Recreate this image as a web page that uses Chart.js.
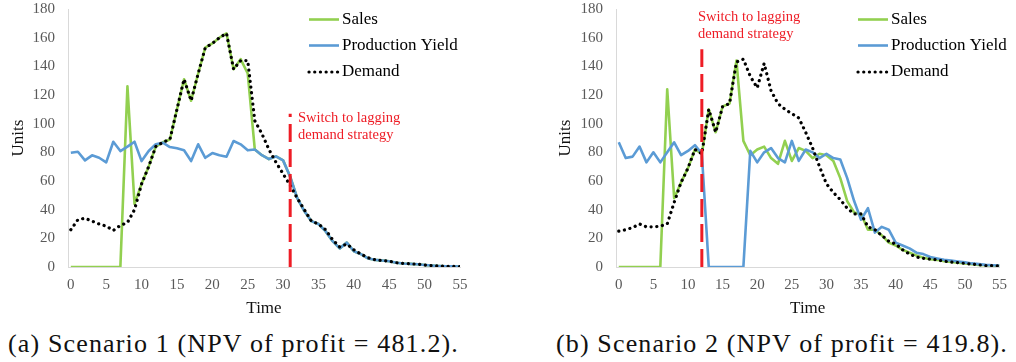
<!DOCTYPE html>
<html>
<head>
<meta charset="utf-8">
<script src="https://cdn.jsdelivr.net/npm/chart.js@4.4.1/dist/chart.umd.min.js"></script>
<style>
  body { margin: 0; background: #fff; width: 1016px; height: 362px; position: relative; overflow: hidden; }
  canvas { position: absolute; top: 0; }
  #chartA { left: 0; }
  #chartB { left: 508px; }
  .caption { position: absolute; top: 329px; font-family: 'Liberation Serif', serif; font-size: 26px; line-height: 30px; color: #111; white-space: nowrap; }
</style>
</head>
<body>
<canvas id="chartA" width="508" height="320"></canvas>
<canvas id="chartB" width="508" height="320"></canvas>
<div class="caption" id="capA" style="left:8px"></div>
<div class="caption" id="capB" style="left:556px"></div>
<script>
// time periods (x axis)
const periods = [0,1,2,3,4,5,6,7,8,9,10,11,12,13,14,15,16,17,18,19,20,21,22,23,24,25,26,27,
                 28,29,30,31,32,33,34,35,36,37,38,39,40,41,42,43,44,45,46,47,48,49,50,51,52,53,54,55];
const xTicks = [0,5,10,15,20,25,30,35,40,45,50,55];
const yTicks = [0,20,40,60,80,100,120,140,160,180];
const seriesNames = ['Sales', 'Production Yield', 'Demand'];

// scenario 1
const salesA = [0,0,0,0,0,0,0,0,126,44,58,70,84,87,89,110,131,116,135,153,156,160,163,138,145,135,
                82,78,75.3,77.2,74.4,63,48,39,32,30,25,18,13,17,11,9,6,5,4.5,4,3,2.4,2.2,1.9,1.4,1,0.7,0.5,0.5,0.3];
const yieldA = [79.7,80.4,74.4,77.9,76.2,73,87.4,80.9,84,87.4,73.9,80.9,85.6,86.7,83.7,82.8,81.4,73.9,85.6,76.2,
                79.5,77.9,76.9,87.9,85.6,81.4,82,78,75.3,77.2,74.4,63,48,39,32,30,25,18,13,17,11,9,6,5,4.5,4,3,
                2.4,2.2,1.9,1.4,1,0.7,0.5,0.5,0.3];
const demandA = [26,33,34,32,30,28.5,25.5,29,31,40,58,70,84,87,89,110,131,116,135,153,156,160,163,138,144,144,
                 102,93,82,73,65,57,48,40,32,30,26,19,14,16,12,9,6.5,5,4.5,4,3,2.5,2.2,2,1.4,1,0.7,0.5,0.4,0.3];

// scenario 2
const salesB = [0,0,0,0,0,0,0,124,48,59,69,82,79,110,94,112,114,144,88,78,82,84,76,72,88,74,83,81,76,79,78,74,
                62,46,38,37,26,26,22,17,15,12,10,8,6.5,5.5,5,4,3.5,3,2.5,2,1.5,1.2,1,0.8];
const yieldB = [87,76,77,84,73,80,73,80,87,78,81,85,79,0,0,0,0,0,0,81,73,80,83,76,73,88,74,82,80,76,79,76,
                75,62,46,33,41,24,28,26,17,15,13,10,9,7,6,5,4.5,3.8,3.2,2.5,2,1.5,1.2,1];
const demandB = [25,26,27.5,30,28,28,28.5,30,45,59,69,82,79,110,94,112,114,143,145,133,125,142,123,114,110,107,
                 104,94,83,70,58,52,47,41,37,37,28,26,22,18,16,12,9,7,6,5.5,5,4,3.5,3,2.5,2,1.5,1,1,0.8];

// strategy switch marker: [time, top of marker]
const switchA = [31, 107];
const switchB = [12, 152];
const noteLines = ['Switch to lagging', 'demand strategy'];
const captions = ['(a) Scenario 1 (NPV of profit = 481.2).', '(b) Scenario 2 (NPV of profit = 419.8).'];

const FONT = "'Liberation Serif', 'Times New Roman', serif";
const GREEN = '#92D050';
const BLUE = '#5B9BD5';
const RED = '#EE1C25';
const PLOT_TOP = 8.5;     // page y of the 180 gridline
const PLOT_BOTTOM = 266;  // page y of the x axis
const X_AXIS_H = 54;

// legend and note, in page coordinates (shifted by the canvas offset)
const overlay = {
  id: 'overlay',
  afterDatasetsDraw(chart, args, opts) {
    const ctx = chart.ctx;
    const dy = chart.$pageOffset || 0;
    ctx.save();
    ctx.textBaseline = 'middle';
    ctx.font = '17px ' + FONT;
    seriesNames.forEach((name, k) => {
      const ds = chart.data.datasets.find(d => d.label === name);
      const y = opts.legendY[k] - dy;
      ctx.beginPath();
      ctx.strokeStyle = ds.borderColor;
      ctx.lineWidth = ds.borderWidth;
      ctx.lineCap = ds.borderCapStyle || 'butt';
      ctx.setLineDash(ds.borderDash || []);
      ctx.moveTo(opts.legendX + 1, y);
      ctx.lineTo(opts.legendX + 31, y);
      ctx.stroke();
      ctx.setLineDash([]);
      ctx.fillStyle = '#000';
      ctx.fillText(name, opts.legendX + 34, y);
    });
    ctx.font = '14.5px ' + FONT;
    ctx.fillStyle = RED;
    noteLines.forEach((t, k) => ctx.fillText(t, opts.noteX, opts.noteY + k * 17 - dy));
    ctx.restore();
  }
};

function chartConfig(sales, prodYield, demand, sw, opt) {
  const pts = vals => periods.map((t, i) => ({x: t, y: vals[i]}));
  return {
    type: 'line',
    data: {
      datasets: [
        { label: 'switch', data: [{x: sw[0], y: 0}, {x: sw[0], y: sw[1]}],
          borderColor: RED, borderWidth: 3, borderDash: [18, 7], order: 0 },
        { label: seriesNames[2], data: pts(demand), borderColor: '#000', borderWidth: 3.2,
          borderDash: [0.1, 5.6], borderCapStyle: 'round', order: 1 },
        { label: seriesNames[1], data: pts(prodYield), borderColor: BLUE, borderWidth: 2.6, order: 2 },
        { label: seriesNames[0], data: pts(sales), borderColor: GREEN, borderWidth: 2.6, order: 3 }
      ]
    },
    options: {
      responsive: false,
      maintainAspectRatio: false,
      animation: false,
      elements: { point: { radius: 0 }, line: { tension: 0, borderJoinStyle: 'round' } },
      layout: { padding: { left: 0, right: opt.padRight, top: 0, bottom: 0 } },
      plugins: {
        legend: { display: false },
        tooltip: { enabled: false },
        overlay: opt
      },
      scales: {
        x: {
          type: 'linear', min: -0.4, max: 55,
          afterBuildTicks: s => { s.ticks = xTicks.map(v => ({value: v})); },
          afterFit: s => { s.height = X_AXIS_H; },
          grid: { display: false, drawTicks: false },
          border: { display: true, color: '#D9D9D9', width: 1 },
          ticks: { color: '#595959', font: { family: FONT, size: 15 }, padding: 9, maxRotation: 0, autoSkip: false },
          title: { display: true, text: 'Time', color: '#111', font: { family: FONT, size: 17 }, padding: { top: 0, bottom: 2 } }
        },
        y: {
          min: 0, max: 180,
          afterBuildTicks: s => { s.ticks = yTicks.map(v => ({value: v})); },
          afterFit: s => { s.width = opt.axisLeft; },
          grid: { display: false, drawTicks: false },
          border: { display: true, color: '#D9D9D9', width: 1 },
          ticks: { color: '#595959', font: { family: FONT, size: 15 }, padding: 13 },
          title: { display: true, text: 'Units', color: '#111', font: { family: FONT, size: 17 }, padding: { top: opt.unitsPad, bottom: 0 } }
        }
      }
    },
    plugins: [overlay]
  };
}

// first pass finds where the plot top lands, second pass shifts the canvas so it sits at PLOT_TOP
function buildChart(id, sales, prodYield, demand, sw, opt) {
  const canvas = document.getElementById(id);
  let chart = new Chart(canvas, chartConfig(sales, prodYield, demand, sw, opt));
  const top = chart.chartArea.top;
  chart.destroy();
  const offset = PLOT_TOP - top;
  canvas.width = 508;
  canvas.height = Math.round(PLOT_BOTTOM - offset + X_AXIS_H);
  canvas.style.top = offset + 'px';
  chart = new Chart(canvas, chartConfig(sales, prodYield, demand, sw, opt));
  chart.$pageOffset = offset;
  chart.update('none');
  return chart;
}

buildChart('chartA', salesA, yieldA, demandA, switchA,
  { axisLeft: 68, padRight: 48, unitsPad: 8, legendX: 308, legendY: [19, 45, 71.5], noteX: 298, noteY: 118 });
buildChart('chartB', salesB, yieldB, demandB, switchB,
  { axisLeft: 108, padRight: 9, unitsPad: 47, legendX: 349, legendY: [19, 45, 71.5], noteX: 190, noteY: 17 });

// captions, spaced out to the width of the original
function fitCaption(id, text, target) {
  const el = document.getElementById(id);
  el.textContent = text;
  const w = el.getBoundingClientRect().width;
  el.style.letterSpacing = ((target - w) / text.length) + 'px';
}
fitCaption('capA', captions[0], 451);
fitCaption('capB', captions[1], 452);
</script>
</body>
</html>
